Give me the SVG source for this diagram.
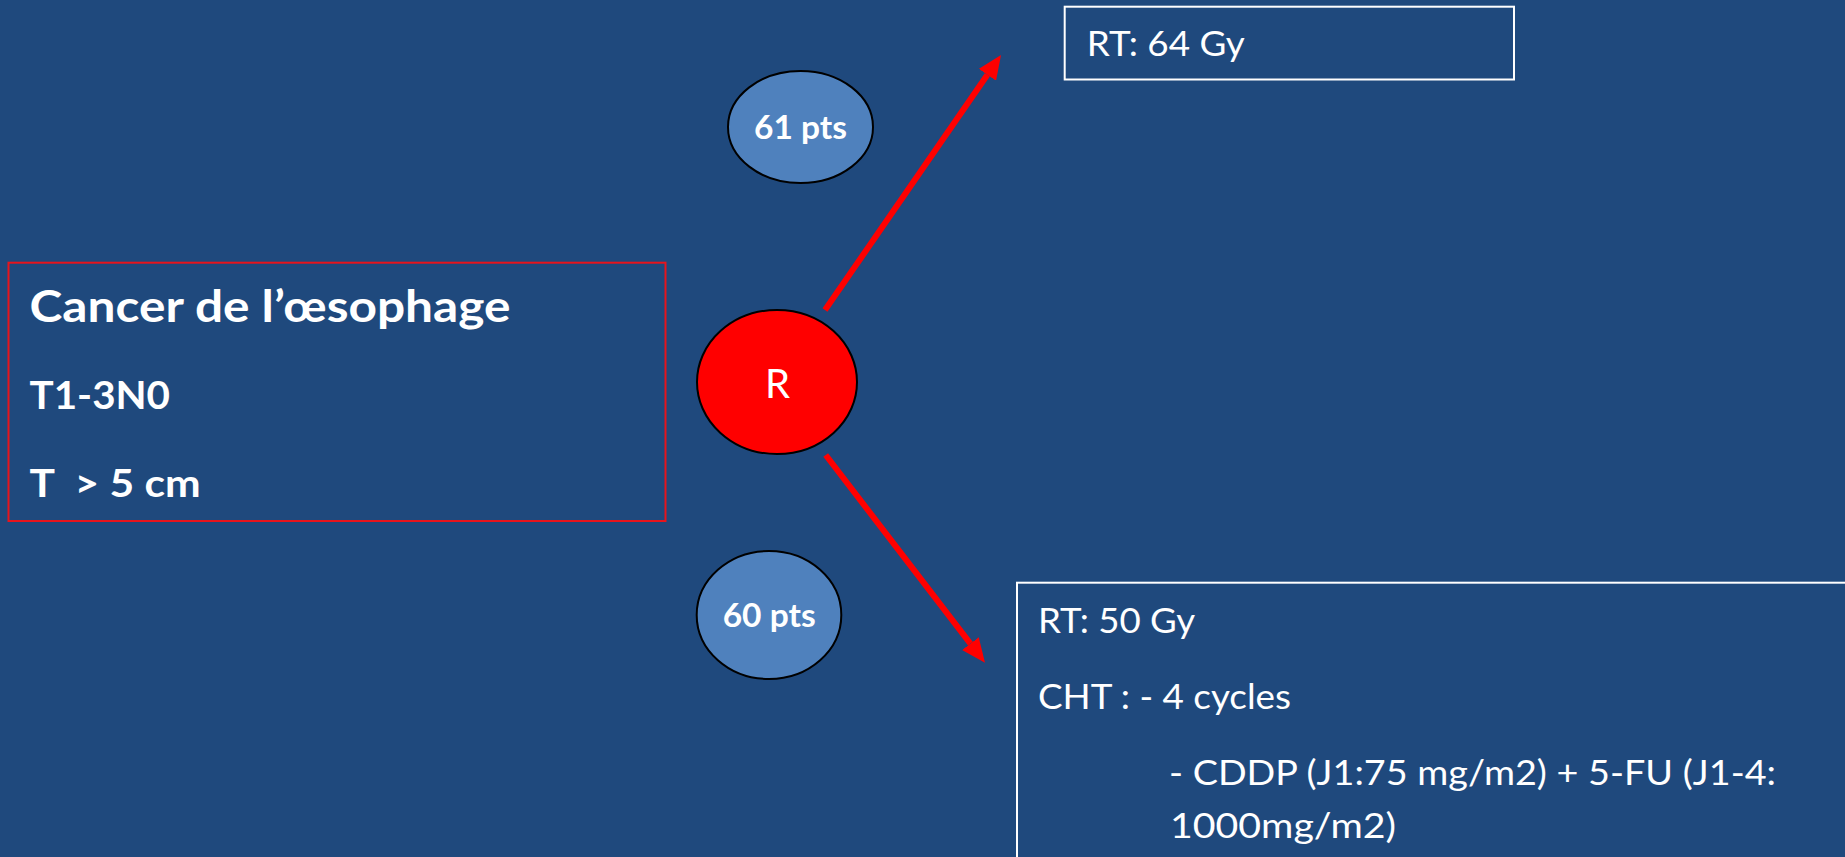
<svg xmlns="http://www.w3.org/2000/svg" width="1845" height="857" viewBox="0 0 1845 857">
<style>
  .bg{fill:#1F497D}
  .t{font-family:Lato,"Liberation Sans",Arial,sans-serif;fill:#FFFFFF}
  .b{font-weight:bold}
  .box{fill:none;stroke:#FFFFFF;stroke-width:2}
  .rbox{fill:none;stroke:#E8141C;stroke-width:2}
  .pts{fill:#4F81BD;stroke:#000000;stroke-width:2}
  .rand{fill:#FF0000;stroke:#000000;stroke-width:2}
  .arrow{stroke:#FF0000;stroke-width:6;fill:none;marker-end:url(#head)}
</style>
<defs>
  <marker id="head" markerUnits="strokeWidth" markerWidth="4" markerHeight="3.5" refX="0" refY="1.75" orient="auto">
    <path d="M0,0 L4,1.75 L0,3.5 Z" fill="#FF0000"/>
  </marker>
</defs>
<rect class="bg" x="0" y="0" width="1845" height="857"/>

<g id="connectors">
  <line class="arrow" x1="825" y1="310" x2="987.4" y2="74.8"/>
  <line class="arrow" x1="825.7" y1="455" x2="970.4" y2="643.7"/>
</g>

<g id="patient">
  <rect class="rbox" x="8.5" y="262.7" width="657" height="258.3"/>
  <text class="t b" x="29.5" y="321.7" font-size="44" textLength="481" lengthAdjust="spacingAndGlyphs">Cancer de l’œsophage</text>
  <text class="t b" x="29.5" y="409.3" font-size="39" textLength="140.5" lengthAdjust="spacingAndGlyphs">T1-3N0</text>
  <text class="t b" x="29.5" y="496.7" font-size="39" textLength="171" lengthAdjust="spacingAndGlyphs" style="white-space:pre">T  &gt; 5 cm</text>
</g>

<g id="randomisation">
  <ellipse class="rand" cx="777" cy="382" rx="80" ry="72"/>
  <text class="t" x="777.5" y="398" font-size="40" text-anchor="middle">R</text>
</g>

<g id="arm1-count">
  <ellipse class="pts" cx="800.5" cy="127" rx="72.5" ry="56"/>
  <text class="t b" x="754" y="139" font-size="32" textLength="93" lengthAdjust="spacingAndGlyphs">61 pts</text>
</g>

<g id="arm2-count">
  <ellipse class="pts" cx="769" cy="615" rx="72.3" ry="64"/>
  <text class="t b" x="722.7" y="626.7" font-size="32" textLength="93" lengthAdjust="spacingAndGlyphs">60 pts</text>
</g>

<g id="arm1">
  <rect class="box" x="1064.7" y="6.7" width="449.3" height="72.8"/>
  <text class="t" x="1086.7" y="56" font-size="35.5" textLength="158" lengthAdjust="spacingAndGlyphs">RT: 64 Gy</text>
</g>

<g id="arm2">
  <rect class="box" x="1017" y="582.7" width="840" height="290"/>
  <text class="t" x="1038" y="632.7" font-size="35.5" textLength="157" lengthAdjust="spacingAndGlyphs">RT: 50 Gy</text>
  <text class="t" x="1038" y="709" font-size="35.5" textLength="253" lengthAdjust="spacingAndGlyphs">CHT : - 4 cycles</text>
  <text class="t" x="1169" y="785" font-size="35.5" textLength="607" lengthAdjust="spacingAndGlyphs">- CDDP (J1:75 mg/m2) + 5-FU (J1-4:</text>
  <text class="t" x="1170" y="838" font-size="35.5" textLength="226" lengthAdjust="spacingAndGlyphs">1000mg/m2)</text>
</g>
</svg>
